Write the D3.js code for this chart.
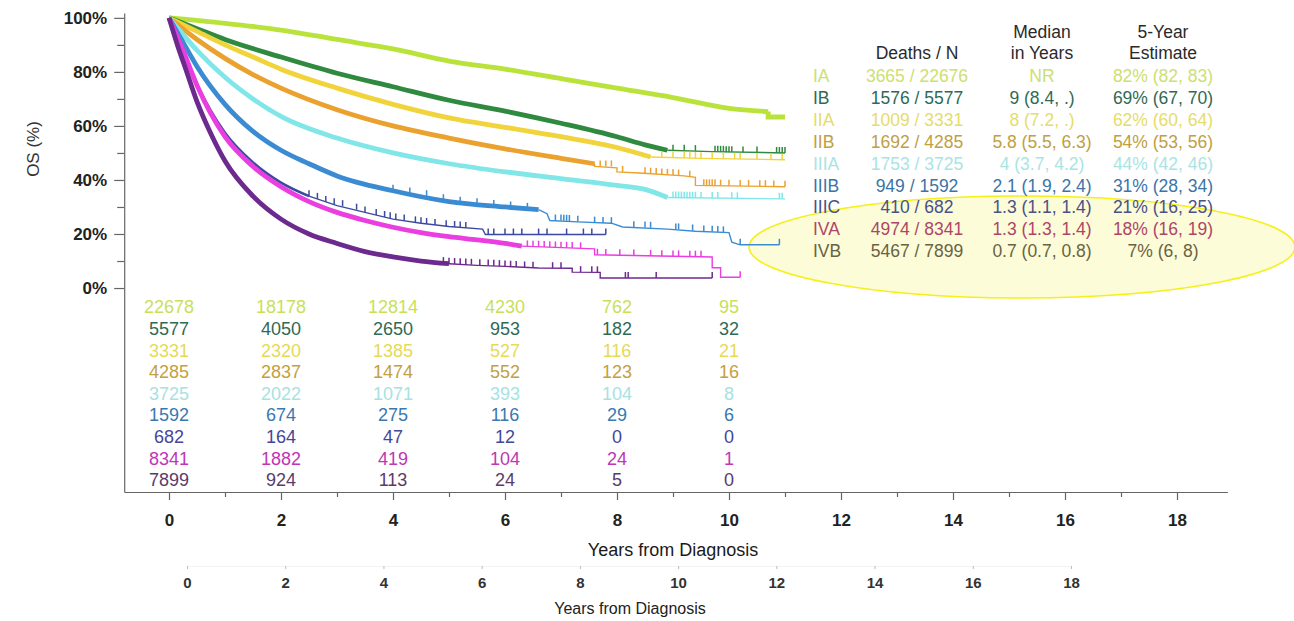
<!DOCTYPE html>
<html>
<head>
<meta charset="utf-8">
<script src="https://cdn.jsdelivr.net/npm/d3@7"></script>
<style>
  body { margin: 0; background: #fff; }
  svg { display: block; font-family: 'Liberation Sans', Arial, sans-serif; }
</style>
</head>
<body>
<div class="display"></div>
<script>
const WIDTH = 1294;
const HEIGHT = 621;

const STAGES = ['IA', 'IB', 'IIA', 'IIB', 'IIIA', 'IIIB', 'IIIC', 'IVA', 'IVB'];

// survival curves, [years, OS %]
const OS_IA = [[0,100],[1,98],[2,95.5],[3,92],[4,88.5],[5,84],[6,81],[7,77.5],[8,74],[9,70.5],[10,66.5],[10.7,65.3],[10.7,63.3],[11,63.3]];
const OS_IB = [[0,100],[0.5,96],[1,92],[2,85.5],[3,79.5],[4,74.5],[5,69.5],[6,65.5],[7,61],[8,56],[8.5,53],[8.9,51],[9.7,50.5],[11,50]];
const OS_IIA = [[0,100],[0.5,95],[1,90],[1.5,85.5],[2,81],[3,74],[4,68],[5,63],[6,59.5],[7,56],[8,52],[8.6,48.5],[9.5,48],[11,47.5]];
const OS_IIB = [[0,100],[0.5,92],[1,85],[1.5,79],[2,74],[3,66],[4,60],[5,55.5],[6,51.5],[7,48],[7.6,46],[7.6,45],[8,44.5],[8,43],[8.4,42.6],[9.2,41.5],[9.4,41],[9.4,38],[11,37.5]];
const OS_IIIA = [[0,100],[0.5,88],[1,78],[1.5,70],[2,63.5],[3,55.5],[4,50],[5,46],[6,43],[7,40.5],[8,38],[8.5,36.5],[8.9,33.5],[11,33]];
const OS_IIIB = [[0,100],[0.25,91],[0.5,82],[1,68],[1.5,58],[2,51],[2.5,46],[3,41.5],[4,36],[5,32],[6,30],[6.6,29],[6.75,27.5],[6.8,25],[7.3,24.5],[7.9,24],[8.1,22.6],[8.9,21.8],[9.4,21],[10,20.5],[10.05,17],[10.2,16],[10.9,16]];
const OS_IIIC = [[0,100],[0.25,88],[0.5,75.5],[1,57.5],[1.5,46.5],[2,39],[2.5,34],[3,30.5],[3.5,28],[4,25.5],[4.5,24],[5,22.8],[5.6,21.8],[5.65,19.8],[7.8,19.8]];
const OS_IVA = [[0,100],[0.25,88],[0.5,75],[1,56],[1.5,45],[2,37.5],[2.5,32],[3,28],[3.5,25],[4,22.5],[4.5,20.5],[5,19],[5.5,17.8],[6,16.5],[6.3,15.5],[7.6,14.5],[7.6,12.3],[9.7,11.5],[9.7,7.5],[9.85,7.5],[9.85,4],[10.2,4]];
const OS_IVB = [[0,100],[0.15,90],[0.3,81],[0.5,69],[0.75,57],[1,47],[1.5,34],[2,25.5],[2.5,20],[3,16.5],[3.5,13.5],[4,11.5],[4.5,10],[5,9],[5.5,8.4],[6,8],[6.6,7.4],[7.2,7.3],[7.2,5.9],[7.7,5.8],[7.7,3.7],[9.7,3.7]];

// censoring marks in the tails, [years, OS %]
const CENSOR_IA = [];
const CENSOR_IB = [[9.0,50.8],[9.2,50.8],[9.4,50.7],[9.75,50.4],[9.8,50.4],[9.85,50.4],[9.9,50.4],[9.95,50.3],[10,50.3],[10.05,50.3],[10.25,50.2],[10.5,50.2],[10.85,50],[10.9,50],[10.95,50],[11,50]];
const CENSOR_IIA = [[8.8,48.4],[9,48.3],[9.2,48.2],[9.3,48.2],[9.4,48.1],[9.5,48],[9.7,48],[9.9,47.9],[10.1,47.8],[10.2,47.8],[10.5,47.7],[10.75,47.6],[10.95,47.5]];
const CENSOR_IIB = [[7.7,45],[7.8,45],[7.9,45],[8.1,43],[8.5,42.5],[8.6,42.3],[8.7,42.2],[8.8,42],[8.9,41.9],[9,41.8],[9.1,41.6],[9.3,41.2],[9.55,38],[9.6,38],[9.65,38],[9.7,38],[9.75,38],[9.85,37.9],[10,37.9],[10.2,37.8],[10.35,37.8],[10.55,37.7],[10.65,37.7],[10.8,37.6],[11,37.5]];
const CENSOR_IIIA = [[9,33.5],[9.05,33.5],[9.1,33.5],[9.15,33.5],[9.2,33.4],[9.25,33.4],[9.3,33.4],[9.35,33.4],[9.4,33.4],[9.5,33.3],[9.7,33.3],[9.8,33.3],[10.05,33.2],[10.15,33.2],[10.9,33],[10.95,33]];
const CENSOR_IIIB = [[4,36],[4.3,35],[4.6,34],[4.9,32.5],[5.2,31.6],[5.5,31],[5.8,30.4],[6.1,29.8],[6.4,29.3],[6.9,25],[7,25],[7.05,24.9],[7.1,24.9],[7.15,24.8],[7.3,24.5],[7.6,24.2],[7.75,24.1],[7.9,24],[8.3,22.5],[8.5,22.4],[8.6,22.3],[9.05,21.7],[9.1,21.7],[9.35,21.3],[9.55,20.9],[9.7,20.8],[9.8,20.7],[9.9,20.6],[10.2,16],[10.9,16]];
const CENSOR_IIIC = [[2.5,34],[2.65,33],[2.8,31.8],[2.95,31],[3.1,30.3],[3.35,29],[3.5,28],[3.7,27],[3.85,26.3],[3.95,25.8],[4.05,25.4],[4.2,25],[4.4,24.3],[4.5,24],[4.6,23.7],[4.75,23.3],[4.95,22.9],[5.1,22.6],[5.2,22.4],[5.3,22.2],[5.7,19.8],[5.8,19.8],[6,19.8],[6.15,19.8],[6.3,19.8],[6.6,19.8],[6.75,19.8],[7.1,19.8],[7.4,19.8],[7.55,19.8],[7.8,19.8]];
const CENSOR_IVA = [[6.4,15.4],[6.5,15.3],[6.6,15.3],[6.7,15.2],[6.8,15.1],[6.9,15],[7,14.9],[7.1,14.9],[7.2,14.8],[7.35,14.7],[7.65,12.3],[7.8,12.2],[8.05,12.1],[8.3,12],[8.6,11.9],[8.8,11.8],[9,11.7],[9.1,11.7],[9.3,11.6],[9.4,11.6],[9.5,11.6],[10.2,4]];
const CENSOR_IVB = [[4.9,9.2],[5,9],[5.1,8.9],[5.2,8.8],[5.3,8.7],[5.4,8.6],[5.55,8.4],[5.7,8.3],[5.8,8.2],[5.9,8.1],[6,8],[6.1,7.9],[6.2,7.8],[6.35,7.6],[6.5,7.5],[6.85,7.35],[7,7.35],[7.35,5.9],[7.55,5.8],[7.65,5.8],[8.15,3.7],[8.2,3.7],[8.7,3.7],[9.7,3.7]];

// where the dense (thick) part of each curve ends, years
const DENSE_END = [10.7, 8.9, 8.6, 7.6, 8.9, 6.6, 2.5, 6.3, 5];

// numbers at risk
const RISK_TIMES = [0, 2, 4, 6, 8, 10];
const AT_RISK_IA = [22678, 18178, 12814, 4230, 762, 95];
const AT_RISK_IB = [5577, 4050, 2650, 953, 182, 32];
const AT_RISK_IIA = [3331, 2320, 1385, 527, 116, 21];
const AT_RISK_IIB = [4285, 2837, 1474, 552, 123, 16];
const AT_RISK_IIIA = [3725, 2022, 1071, 393, 104, 8];
const AT_RISK_IIIB = [1592, 674, 275, 116, 29, 6];
const AT_RISK_IIIC = [682, 164, 47, 12, 0, 0];
const AT_RISK_IVA = [8341, 1882, 419, 104, 24, 1];
const AT_RISK_IVB = [7899, 924, 113, 24, 5, 0];

// summary table
const DEATHS_N = ['3665 / 22676', '1576 / 5577', '1009 / 3331', '1692 / 4285', '1753 / 3725', '949 / 1592', '410 / 682', '4974 / 8341', '5467 / 7899'];
const MEDIAN = ['NR', '9 (8.4, .)', '8 (7.2, .)', '5.8 (5.5, 6.3)', '4 (3.7, 4.2)', '2.1 (1.9, 2.4)', '1.3 (1.1, 1.4)', '1.3 (1.3, 1.4)', '0.7 (0.7, 0.8)'];
const FIVE_YEAR = ['82% (82, 83)', '69% (67, 70)', '62% (60, 64)', '54% (53, 56)', '44% (42, 46)', '31% (28, 34)', '21% (16, 25)', '18% (16, 19)', '7% (6, 8)'];

const Y_TICKS = [0, 10, 20, 30, 40, 50, 60, 70, 80, 90, 100];
const X_TICKS = d3.range(0, 19);

const LINE_COLORS = ['#b9e33b', '#2f8a3f', '#f1d43c', '#eaa12e', '#80e6e8', '#3b8bd2', '#3b4aa0', '#ea3ee0', '#6c2a8e'];
const RISK_COLORS = ['#c8df5a', '#2f6a55', '#e6da55', '#c4a040', '#a6e2e2', '#3a78b0', '#45469a', '#c035b5', '#5a3c6a'];
const TABLE_COLORS = ['#cde070', '#2f6a55', '#e6dc6a', '#c0a040', '#a8e4e4', '#3a74a8', '#4a5088', '#b04468', '#6a6242'];

const CURVES = [OS_IA, OS_IB, OS_IIA, OS_IIB, OS_IIIA, OS_IIIB, OS_IIIC, OS_IVA, OS_IVB];
const CENSORS = [CENSOR_IA, CENSOR_IB, CENSOR_IIA, CENSOR_IIB, CENSOR_IIIA, CENSOR_IIIB, CENSOR_IIIC, CENSOR_IVA, CENSOR_IVB];
const AT_RISK = [AT_RISK_IA, AT_RISK_IB, AT_RISK_IIA, AT_RISK_IIB, AT_RISK_IIIA, AT_RISK_IIIB, AT_RISK_IIIC, AT_RISK_IVA, AT_RISK_IVB];

const FONT = "'Liberation Sans', Arial, sans-serif";

const svg = d3.select('.display')
  .append('svg')
  .attr('width', WIDTH)
  .attr('height', HEIGHT);

const x = d3.scaleLinear().domain([-0.8, 18.9]).range([124.2, 1227.4]);
const y = d3.scaleLinear().domain([-75.5, 101.8]).range([492, 13]);
const x2 = d3.scaleLinear().domain([0, 18]).range([187, 1071]);
const row = d3.scalePoint().domain(STAGES).range([307, 480]);
const tableRow = d3.scalePoint().domain(STAGES).range([76, 251]);

// highlight ellipse behind the summary table
svg.append('ellipse')
  .attr('cx', 1022)
  .attr('cy', 247)
  .attr('rx', 273)
  .attr('ry', 51)
  .attr('fill', '#fcfcd8')
  .attr('stroke', '#f5f01a')
  .attr('stroke-width', 1.6);

// y axis
const yAxis = svg.append('g')
  .attr('transform', `translate(${x(-0.8)}, 0)`)
  .call(d3.axisLeft(y).tickValues(Y_TICKS).tickSize(10).tickSizeOuter(0).tickPadding(7)
    .tickFormat(d => d % 20 === 0 ? d + '%' : ''));
yAxis.selectAll('.tick line').attr('x2', d => d % 20 === 0 ? -10 : -7);
yAxis.selectAll('path, line').attr('stroke', '#666').attr('stroke-width', 1.2);
yAxis.selectAll('text').attr('font-size', 17).attr('font-weight', 'bold').attr('fill', '#222')
  .attr('font-family', FONT);

svg.append('text')
  .attr('transform', 'translate(33, 149) rotate(-90)')
  .attr('text-anchor', 'middle')
  .attr('dy', '0.35em')
  .attr('font-size', 17)
  .attr('fill', '#333')
  .text('OS (%)');

// x axis
const xAxis = svg.append('g')
  .attr('transform', `translate(0, ${y(-75.5)})`)
  .call(d3.axisBottom(x).tickValues(X_TICKS).tickSize(8).tickSizeOuter(0).tickPadding(14)
    .tickFormat(d => d % 2 === 0 ? d : ''));
xAxis.selectAll('.tick line').attr('y2', d => d % 2 === 0 ? 8 : 5);
xAxis.selectAll('path, line').attr('stroke', '#666').attr('stroke-width', 1.2);
xAxis.selectAll('text').attr('font-size', 17).attr('font-weight', 'bold').attr('fill', '#222')
  .attr('font-family', FONT);

svg.append('text')
  .attr('x', 673)
  .attr('y', 556)
  .attr('text-anchor', 'middle')
  .attr('font-size', 18)
  .attr('fill', '#1a1a1a')
  .text('Years from Diagnosis');

// faint duplicate axis underneath
const xAxis2 = svg.append('g')
  .attr('transform', 'translate(0, 566)')
  .call(d3.axisBottom(x2).tickValues(d3.range(0, 19, 2)).tickSize(3).tickSizeOuter(0).tickPadding(8));
xAxis2.select('.domain').attr('stroke', '#f3f3f3');
xAxis2.selectAll('.tick line').attr('stroke', '#bbb');
xAxis2.selectAll('text').attr('font-size', 15).attr('font-weight', 'bold').attr('fill', '#333')
  .attr('font-family', FONT);

svg.append('text')
  .attr('x', 630)
  .attr('y', 614)
  .attr('text-anchor', 'middle')
  .attr('font-size', 16)
  .attr('fill', '#222')
  .text('Years from Diagnosis');

// curves: dense part smoothed and thick, tail as thin steps
const smooth = d3.line().x(d => x(d[0])).y(d => y(d[1])).curve(d3.curveMonotoneX);
const steps = d3.line().x(d => x(d[0])).y(d => y(d[1]));
const curveGroup = svg.append('g');

STAGES.forEach((stage, i) => {
  const pts = CURVES[i];
  const cut = pts.findIndex(d => d[0] >= DENSE_END[i]);
  const dense = pts.slice(0, cut + 1);
  const tail = pts.slice(cut);

  if (tail.length > 1) {
    curveGroup.append('path')
      .attr('d', steps(tail))
      .attr('fill', 'none')
      .attr('stroke', LINE_COLORS[i])
      .attr('stroke-width', i === 0 ? 5 : 1.4);
  }

  curveGroup.append('path')
    .attr('d', smooth(dense))
    .attr('fill', 'none')
    .attr('stroke', LINE_COLORS[i])
    .attr('stroke-width', i === 6 ? 2.5 : 4.8)
    .attr('stroke-linejoin', 'round');

  curveGroup.selectAll(null)
    .data(CENSORS[i])
    .enter()
    .append('line')
    .attr('x1', d => x(d[0]))
    .attr('x2', d => x(d[0]))
    .attr('y1', d => y(d[1]))
    .attr('y2', d => y(d[1]) - 6)
    .attr('stroke', LINE_COLORS[i])
    .attr('stroke-width', 1.5);
});

// numbers at risk
STAGES.forEach((stage, i) => {
  svg.append('g')
    .selectAll('text')
    .data(AT_RISK[i])
    .enter()
    .append('text')
    .attr('x', (d, j) => x(RISK_TIMES[j]))
    .attr('y', row(stage))
    .attr('dy', '0.35em')
    .attr('text-anchor', 'middle')
    .attr('font-size', 18)
    .attr('fill', RISK_COLORS[i])
    .text(d => d);
});

// summary table
const table = svg.append('g').attr('font-size', 17.5);
const COLS = [917, 1042, 1163];

[['', 'Median', '5-Year'], ['Deaths / N', 'in Years', 'Estimate']].forEach((hdr, r) => {
  hdr.forEach((h, c) => {
    table.append('text')
      .attr('x', COLS[c])
      .attr('y', r === 0 ? 32 : 53)
      .attr('dy', '0.35em')
      .attr('text-anchor', 'middle')
      .attr('fill', '#2a2a2a')
      .text(h);
  });
});

STAGES.forEach((stage, i) => {
  const yy = tableRow(stage);
  table.append('text').attr('x', 813).attr('y', yy).attr('dy', '0.35em')
    .attr('fill', TABLE_COLORS[i]).text(stage);
  [DEATHS_N[i], MEDIAN[i], FIVE_YEAR[i]].forEach((v, c) => {
    table.append('text')
      .attr('x', COLS[c])
      .attr('y', yy)
      .attr('dy', '0.35em')
      .attr('text-anchor', 'middle')
      .attr('fill', TABLE_COLORS[i])
      .text(v);
  });
});
</script>
</body>
</html>
